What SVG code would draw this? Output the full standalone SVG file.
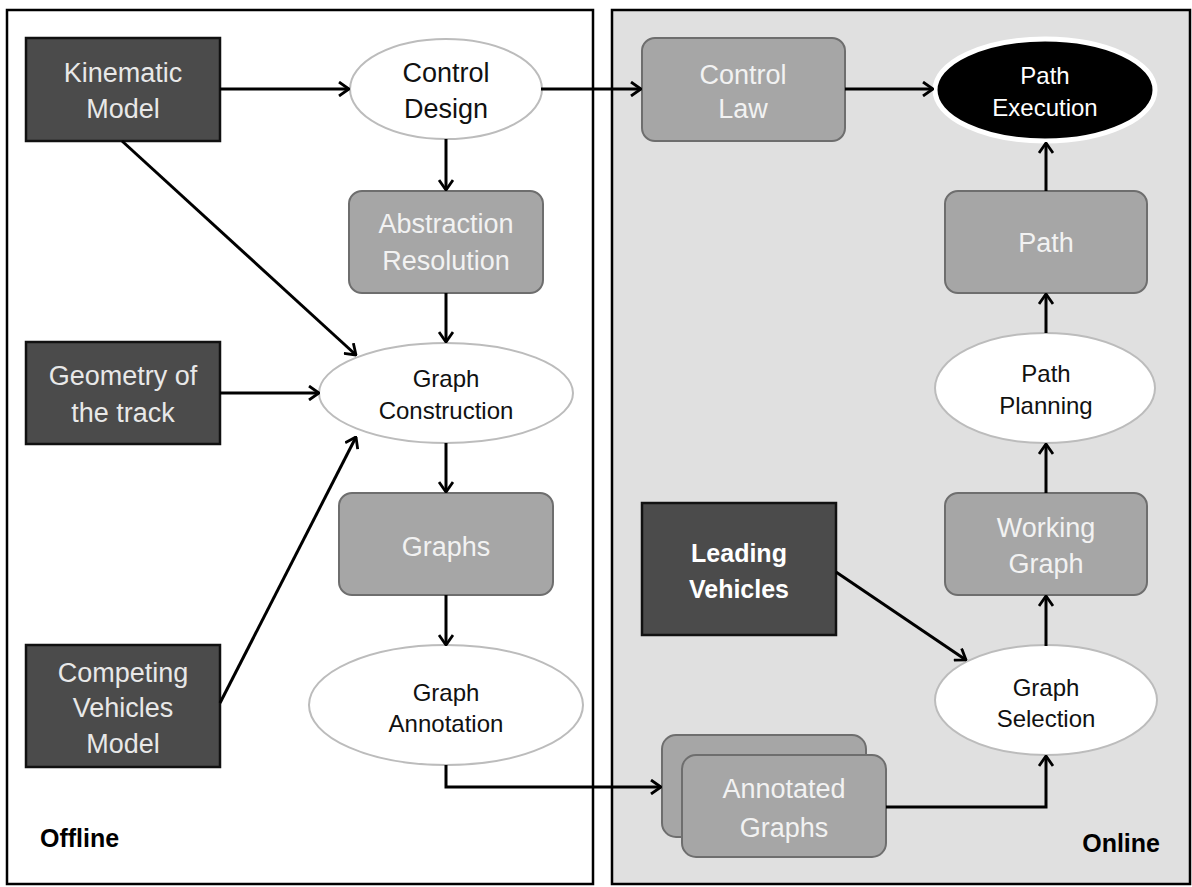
<svg xmlns="http://www.w3.org/2000/svg" width="1192" height="887" viewBox="0 0 1192 887">
<defs>
<style>
.panel{stroke:#000;stroke-width:2.5}
.dark{fill:#4b4b4b;stroke:#111;stroke-width:2.5}
.grey{fill:#a6a6a6;stroke:#6e6e6e;stroke-width:2}
.ell{fill:#fff;stroke:#bcbcbc;stroke-width:2}
.t{font-family:"Liberation Sans",Arial,sans-serif;text-anchor:middle}
.tb{font-size:27px;fill:#e8e8e8}
.tg{font-size:27px;fill:#f2f2f2}
.te{font-size:24px;fill:#111}
.conn path{fill:none;stroke:#000;stroke-width:3}
</style>
<marker id="arr" viewBox="0 0 12 16" refX="11" refY="8" markerWidth="12" markerHeight="16" markerUnits="userSpaceOnUse" orient="auto">
<path d="M1,1 L11,8 L1,15" fill="none" stroke="#000" stroke-width="2.8"/>
</marker>
</defs>
<rect width="1192" height="887" fill="#fff"/>
<g id="offline-panel">
<rect class="panel" x="7" y="10" width="586" height="874" fill="#fff"/>
<text class="t" x="40" y="847" style="text-anchor:start;font-size:25px;font-weight:bold" fill="#000">Offline</text>
</g>
<g id="online-panel">
<rect class="panel" x="612" y="10" width="578" height="874" fill="#e0e0e0"/>
<text class="t" x="1160" y="852" style="text-anchor:end;font-size:25px;font-weight:bold" fill="#000">Online</text>
</g>
<g id="kinematic-model">
<rect class="dark" x="26" y="38" width="194" height="103"/>
<text class="t tb" x="123" y="82">Kinematic</text>
<text class="t tb" x="123" y="118">Model</text>
</g>
<g id="geometry">
<rect class="dark" x="26" y="342" width="194" height="102"/>
<text class="t tb" x="123" y="385">Geometry of</text>
<text class="t tb" x="123" y="422">the track</text>
</g>
<g id="competing">
<rect class="dark" x="26" y="645" width="194" height="122"/>
<text class="t tb" x="123" y="682">Competing</text>
<text class="t tb" x="123" y="717">Vehicles</text>
<text class="t tb" x="123" y="753">Model</text>
</g>
<g id="control-design">
<ellipse class="ell" cx="446" cy="89" rx="96" ry="50"/>
<text class="t tb" x="446" y="82" fill="#111" style="fill:#111">Control</text>
<text class="t tb" x="446" y="118" style="fill:#111">Design</text>
</g>
<g id="abstraction">
<rect class="grey" x="349" y="191" width="194" height="102" rx="13"/>
<text class="t tg" x="446" y="233">Abstraction</text>
<text class="t tg" x="446" y="270">Resolution</text>
</g>
<g id="graph-construction">
<ellipse class="ell" cx="446" cy="393" rx="127" ry="50"/>
<text class="t te" x="446" y="387">Graph</text>
<text class="t te" x="446" y="419">Construction</text>
</g>
<g id="graphs">
<rect class="grey" x="339" y="493" width="214" height="102" rx="13"/>
<text class="t tg" x="446" y="556">Graphs</text>
</g>
<g id="graph-annotation">
<ellipse class="ell" cx="446" cy="705" rx="137" ry="60"/>
<text class="t te" x="446" y="701">Graph</text>
<text class="t te" x="446" y="732">Annotation</text>
</g>
<g id="control-law">
<rect class="grey" x="642" y="38" width="203" height="103" rx="13"/>
<text class="t tg" x="743" y="84">Control</text>
<text class="t tg" x="743" y="118">Law</text>
</g>
<g id="path-execution">
<ellipse cx="1045" cy="90" rx="110" ry="51" fill="#000" stroke="#fff" stroke-width="5"/>
<text class="t te" x="1045" y="84" style="fill:#fff">Path</text>
<text class="t te" x="1045" y="116" style="fill:#fff">Execution</text>
</g>
<g id="path">
<rect class="grey" x="945" y="191" width="202" height="102" rx="13"/>
<text class="t tg" x="1046" y="252">Path</text>
</g>
<g id="path-planning">
<ellipse class="ell" cx="1045" cy="388" rx="110" ry="55"/>
<text class="t te" x="1046" y="382">Path</text>
<text class="t te" x="1046" y="414">Planning</text>
</g>
<g id="working-graph">
<rect class="grey" x="945" y="493" width="202" height="102" rx="13"/>
<text class="t tg" x="1046" y="537">Working</text>
<text class="t tg" x="1046" y="573">Graph</text>
</g>
<g id="leading-vehicles">
<rect class="dark" x="642" y="503" width="194" height="132"/>
<text class="t" x="739" y="562" style="font-size:25px;font-weight:bold;fill:#fff">Leading</text>
<text class="t" x="739" y="598" style="font-size:25px;font-weight:bold;fill:#fff">Vehicles</text>
</g>
<g id="graph-selection">
<ellipse class="ell" cx="1046" cy="700" rx="111" ry="55"/>
<text class="t te" x="1046" y="696">Graph</text>
<text class="t te" x="1046" y="727">Selection</text>
</g>
<g id="annotated-graphs">
<rect class="grey" x="662" y="735" width="204" height="102" rx="14"/>
<rect class="grey" x="682" y="755" width="204" height="102" rx="14"/>
<text class="t tg" x="784" y="798">Annotated</text>
<text class="t tg" x="784" y="837">Graphs</text>
</g>
<g id="connectors" class="conn">
<path d="M220,89 L349,89" marker-end="url(#arr)"/>
<path d="M541,89 L641,89" marker-end="url(#arr)"/>
<path d="M845,89 L933,89" marker-end="url(#arr)"/>
<path d="M446,139 L446,190" marker-end="url(#arr)"/>
<path d="M446,293 L446,342" marker-end="url(#arr)"/>
<path d="M122,141 L356,355" marker-end="url(#arr)"/>
<path d="M220,393 L319,393" marker-end="url(#arr)"/>
<path d="M220,703 L356,437" marker-end="url(#arr)"/>
<path d="M446,443 L446,492" marker-end="url(#arr)"/>
<path d="M446,595 L446,645" marker-end="url(#arr)"/>
<path d="M446,765 L446,787 L661,787" marker-end="url(#arr)"/>
<path d="M886,807 L1046,807 L1046,756" marker-end="url(#arr)"/>
<path d="M836,572 L966,660" marker-end="url(#arr)"/>
<path d="M1046,646 L1046,596" marker-end="url(#arr)"/>
<path d="M1046,493 L1046,444" marker-end="url(#arr)"/>
<path d="M1046,333 L1046,294" marker-end="url(#arr)"/>
<path d="M1046,191 L1046,143" marker-end="url(#arr)"/>
</g>
</svg>
